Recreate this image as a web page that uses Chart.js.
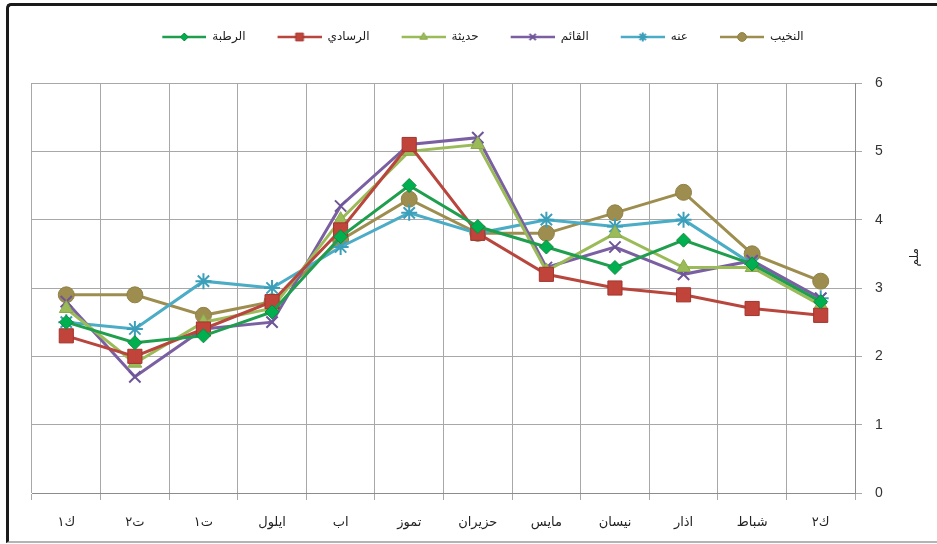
<!DOCTYPE html>
<html><head><meta charset="utf-8">
<script src="https://cdn.jsdelivr.net/npm/chart.js@4.4.1/dist/chart.umd.min.js"></script>
<style>
html,body{margin:0;padding:0;background:#fff;}
#wrap{position:relative;width:937px;height:544px;overflow:hidden;background:#fff;}
#frame{position:absolute;left:6px;top:3px;width:960px;height:535px;border-left:3px solid #1a1a1a;border-top:3px solid #1a1a1a;border-bottom:2px solid #b4b4b4;border-top-left-radius:5px;pointer-events:none;}
canvas{position:absolute;left:0;top:0;}
</style></head><body>
<div id="wrap"><canvas id="c" width="937" height="544"></canvas><div id="frame"></div></div>
<script>
// Months in natural order (Jan..Dec); axis is reversed so Jan is at the right
const months = ['ك٢','شباط','اذار','نيسان','مايس','حزيران','تموز','اب','ايلول','ت١','ت٢','ك١'];
const seriesNames = ['الرطبة','الرسادي','حديثة','القائم','عنه','النخيب'];
const rutba    = [2.8, 3.35, 3.7, 3.3, 3.6, 3.9, 4.5, 3.75, 2.65, 2.3, 2.2, 2.5];
const rasadi   = [2.6, 2.7, 2.9, 3.0, 3.2, 3.8, 5.1, 3.85, 2.8, 2.4, 2.0, 2.3];
const haditha  = [2.75, 3.3, 3.3, 3.8, 3.25, 5.1, 5.0, 4.0, 2.7, 2.5, 1.9, 2.7];
const qaim     = [2.85, 3.4, 3.2, 3.6, 3.3, 5.2, 5.1, 4.2, 2.5, 2.4, 1.7, 2.8];
const anah     = [2.85, 3.35, 4.0, 3.9, 4.0, 3.8, 4.1, 3.6, 3.0, 3.1, 2.4, 2.5];
const nukhaib  = [3.1, 3.5, 4.4, 4.1, 3.8, 3.8, 4.3, 3.7, 2.8, 2.6, 2.9, 2.9];
const yTicks   = [0, 1, 2, 3, 4, 5, 6];
const yTitle   = 'ملم';

const styles = [
  {line:'#1f9e4e', fill:'#00b050', border:'#118a3c', ps:'rectRot', r:7, bw:1},
  {line:'#b8463d', fill:'#c0443a', border:'#a3352e', ps:'rect', r:10, bw:1},
  {line:'#9bbb59', fill:'#9bbb59', border:'#8aa94c', ps:'triangle', r:8, bw:1},
  {line:'#7a60a2', fill:'#7a60a2', border:'#6e5598', ps:'crossRot', r:8, bw:2},
  {line:'#4bacc6', fill:'#4bacc6', border:'#3c9fba', ps:'star', r:8, bw:2},
  {line:'#9d8e4f', fill:'#9d8e4f', border:'#8f8145', ps:'circle', r:8, bw:1}
];
const seriesData = [rutba, rasadi, haditha, qaim, anah, nukhaib];

function legendImage(s){
  const W = 56, H = 14, m = 12;
  const cv = document.createElement('canvas');
  cv.width = W; cv.height = H;
  const ctx = cv.getContext('2d');
  ctx.strokeStyle = s.line; ctx.lineWidth = 2.5;
  ctx.beginPath(); ctx.moveTo(m, H/2); ctx.lineTo(W, H/2); ctx.stroke();
  ctx.fillStyle = s.fill; ctx.strokeStyle = s.border; ctx.lineWidth = s.bw;
  Chart.helpers.drawPoint(ctx, {pointStyle: s.ps, radius: Math.max(4, s.r*0.55), rotation: 0, borderWidth: s.bw}, (m+W)/2, H/2);
  return cv;
}

const LEG_TOP = 11, LEG_PAD = 20, LEG_H = 72;

const legendHeightPlugin = {
  id: 'legendHeight',
  beforeLayout(chart){
    const lg = chart.legend;
    if (lg && !lg._wrapped){
      const f = lg.fit;
      lg.fit = function(){ f.call(this); this.height = LEG_H; };
      lg._wrapped = true;
    }
  }
};
const yTitlePlugin = {
  id: 'yTitle',
  afterDraw(chart){
    const ctx = chart.ctx, ys = chart.scales.y;
    ctx.save();
    ctx.translate(ys.right - 7, ys.getPixelForValue(3.45));
    ctx.rotate(-Math.PI/2);
    ctx.font = "12px 'DejaVu Sans'";
    ctx.fillStyle = '#222';
    ctx.textAlign = 'center'; ctx.textBaseline = 'middle';
    ctx.fillText(yTitle, 0, 0);
    ctx.restore();
  }
};

const datasets = seriesNames.map((n, i) => ({
  label: n,
  data: seriesData[i],
  borderColor: styles[i].line,
  backgroundColor: styles[i].fill,
  borderWidth: 3,
  tension: 0,
  pointStyle: styles[i].ps,
  pointRadius: styles[i].r,
  pointBackgroundColor: styles[i].fill,
  pointBorderColor: styles[i].border,
  pointBorderWidth: styles[i].bw,
  fill: false
}));

new Chart(document.getElementById('c'), {
  type: 'line',
  data: { labels: months, datasets },
  options: {
    responsive: false,
    animation: false,
    devicePixelRatio: 1,
    layout: { padding: { left: 32, right: 15, top: LEG_TOP, bottom: 10 } },
    plugins: {
      tooltip: { enabled: false },
      legend: {
        position: 'top',
        labels: {
          usePointStyle: true,
          pointStyleWidth: 56,
          padding: LEG_PAD,
          color: '#222',
          font: { family: "'DejaVu Sans'", size: 12 },
          generateLabels(chart){
            return chart.data.datasets.map((ds, i) => ({
              text: ds.label, pointStyle: legendImage(styles[i]), datasetIndex: i,
              fillStyle: 'rgba(0,0,0,0)', strokeStyle: 'rgba(0,0,0,0)', lineWidth: 0, hidden: false, fontColor: '#222'
            }));
          }
        }
      }
    },
    scales: {
      x: {
        reverse: true,
        offset: true,
        grid: { offset: true, color: '#a8a8a8', lineWidth: 1, tickLength: 7, drawTicks: true },
        border: { display: true, color: '#8c8c8c' },
        ticks: { color: '#222', font: { family: "'DejaVu Sans'", size: 13 }, padding: 15, maxRotation: 0, autoSkip: false },
        afterFit(s){ s.height = 41; }
      },
      y: {
        position: 'right',
        min: 0, max: 6,
        afterBuildTicks(s){ s.ticks = yTicks.map(v => ({ value: v })); },
        grid: { color: '#a8a8a8', lineWidth: 1, tickLength: 7 },
        border: { display: true, color: '#8c8c8c' },
        ticks: { padding: 13, color: '#333', font: { family: "'Liberation Sans'", size: 14 } },
        afterFit(s){ s.width = 67; }
      }
    }
  },
  plugins: [legendHeightPlugin, yTitlePlugin]
});
</script>
</body></html>
